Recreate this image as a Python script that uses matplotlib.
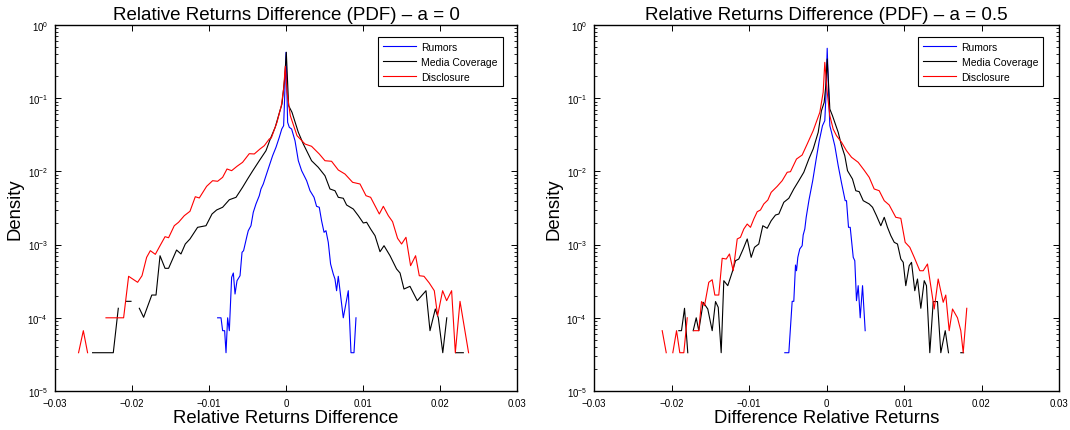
import numpy as np
import matplotlib
matplotlib.use("Agg")
import matplotlib.pyplot as plt
from matplotlib.ticker import FixedLocator, FixedFormatter, LogLocator, NullFormatter

plt.rcParams['font.family'] = ['Liberation Sans', 'DejaVu Sans']
nan = np.nan

series_names = ["Rumors", "Media Coverage", "Disclosure"]
series_colors = ["#0000ff", "#000000", "#ff0000"]
titles = ["Relative Returns Difference (PDF) – a = 0", "Relative Returns Difference (PDF) – a = 0.5"]
xlabels = ["Relative Returns Difference", "Difference Relative Returns"]
ylabel = "Density"
xtick_values = [-0.03, -0.02, -0.01, 0, 0.01, 0.02, 0.03]
xtick_labels = ["−0.03", "−0.02", "−0.01", "0", "0.01", "0.02", "0.03"]

# ---------- a = 0 (values are log10 of density; nan = empty bin) ----------
a0_rumors_x = [-0.00888, -0.00844, -0.00823, -0.00797, -0.00779, -0.00758, -0.00736, -0.00706, -0.00684, -0.00662,
               -0.00636, -0.00597, -0.00571, -0.00551, -0.00506, -0.00490, -0.00455, -0.00425, -0.00390, -0.00347,
               -0.00325, -0.00295, -0.00260, -0.00217, -0.00174, -0.00130, -0.00087, -0.00055, -0.00031, -0.00018,
               0.0, 0.00021, 0.00043, 0.00073, 0.00117, 0.00160, 0.00203, 0.00268, 0.00312, 0.00364,
               0.00397, 0.00432, 0.00462, 0.00494, 0.00519, 0.00549, 0.00579, 0.00614, 0.00636, 0.00657,
               0.00679, 0.00744, 0.00809, 0.00844, 0.00883, 0.00909]
a0_rumors_log = [-4.0, -4.0, -4.176, -4.176, -4.477, -4.0, -4.176, -3.447, -3.388, -3.675,
                 -3.493, -3.425, -3.105, -3.083, -2.878, -2.810, -2.742, -2.559, -2.445, -2.332,
                 -2.240, -2.172, -2.059, -1.922, -1.786, -1.671, -1.534, -1.421, -1.376, -1.011,
                 -0.373, -1.329, -1.398, -1.421, -1.581, -1.854, -1.990, -2.127, -2.264, -2.354,
                 -2.477, -2.490, -2.674, -2.832, -2.810, -2.969, -3.265, -3.402, -3.470, -3.630,
                 -3.433, -4.0, -3.630, -4.477, -4.477, -4.0]

a0_media_x = [-0.02512, -0.02243, -0.02178, nan, -0.02078, -0.02013, nan, -0.01905, -0.01849, -0.01743,
              -0.01688, -0.01636, -0.01571, -0.01525, -0.01421, -0.01364, -0.01308, -0.01247, -0.01148, -0.01039,
              -0.00961, -0.00901, -0.00823, -0.00736, -0.00649, -0.00564, -0.00499, -0.00434, -0.00347, -0.00260,
              -0.00204, -0.00139, -0.00087, -0.00052, -0.00018, 0.00004, 0.00034, 0.00078, 0.00160, 0.00225,
              0.00332, 0.00419, 0.00506, 0.00571, 0.00636, 0.00679, 0.00744, 0.00787, 0.00874, 0.00939,
              0.01004, 0.01047, 0.01099, 0.01156, 0.01221, 0.01273, 0.01351, 0.01436, 0.01481, 0.01532,
              0.01610, 0.01705, 0.01818, 0.01870, 0.01939, 0.01978, 0.02036, 0.02088, nan, 0.02203,
              0.02303]
a0_media_log = [-4.477, -4.477, -3.870, nan, -3.775, -3.775, nan, -3.870, -3.993, -3.689,
                -3.689, -3.152, -3.324, -3.324, -3.074, -3.128, -2.992, -2.923, -2.764, -2.742,
                -2.582, -2.527, -2.490, -2.387, -2.354, -2.217, -2.104, -1.995, -1.854, -1.717,
                -1.557, -1.393, -1.202, -1.079, -0.738, -0.373, -1.102, -1.193, -1.466, -1.626,
                -1.854, -1.944, -2.059, -2.240, -2.264, -2.354, -2.367, -2.459, -2.514, -2.605,
                -2.705, -2.695, -2.787, -2.878, -3.097, -3.015, -3.152, -3.333, -3.388, -3.607,
                -3.570, -3.766, -3.630, -4.176, -3.880, -4.0, -4.477, -4.0, nan, -4.477,
                -4.477]

a0_disc_x = [-0.02694, -0.02632, -0.02577, nan, -0.02338, -0.02109, -0.02044, -0.01927, -0.01870, -0.01810,
             -0.01762, -0.01697, -0.01636, -0.01571, -0.01525, -0.01451, -0.01395, -0.01321, -0.01247, -0.01178,
             -0.01126, -0.01031, -0.00953, -0.00888, -0.00823, -0.00766, -0.00706, -0.00636, -0.00564, -0.00477,
             -0.00412, -0.00338, -0.00282, -0.00217, -0.00191, -0.00117, -0.00061, -0.00031, -0.00009, 0.00013,
             0.00056, 0.00143, 0.00247, 0.00332, 0.00432, 0.00506, 0.00592, 0.00679, 0.00766, 0.00865,
             0.00961, 0.01039, 0.01099, 0.01156, 0.01212, 0.01264, 0.01329, 0.01384, 0.01449, 0.01501,
             0.01558, 0.01618, 0.01683, 0.01731, 0.01792, 0.01861, 0.01926, 0.01969, 0.02034, 0.02086,
             0.02151, 0.02199, 0.02260, 0.02371]
a0_disc_log = [-4.477, -4.176, -4.477, nan, -4.0, -4.0, -3.433, -3.515, -3.425, -3.174,
               -3.083, -3.133, -3.015, -2.892, -2.906, -2.742, -2.695, -2.605, -2.545, -2.346,
               -2.363, -2.204, -2.127, -2.135, -2.081, -1.967, -1.990, -1.930, -1.876, -1.758,
               -1.762, -1.694, -1.649, -1.557, -1.544, -1.329, -1.102, -0.874, -0.564, -0.919,
               -1.239, -1.512, -1.626, -1.657, -1.762, -1.854, -1.862, -1.981, -2.036, -2.149,
               -2.172, -2.332, -2.354, -2.469, -2.582, -2.477, -2.605, -2.687, -2.914, -2.992,
               -2.900, -3.288, -3.152, -3.425, -3.433, -3.525, -3.630, -3.971, -3.630, -3.766,
               -3.630, -4.477, -3.775, -4.477]

# ---------- a = 0.5 ----------
a5_rumors_x = [-0.00538, -0.00486, -0.00443, -0.00422, -0.00400, -0.00387, -0.00370, -0.00345, -0.00314, -0.00301,
               -0.00280, -0.00262, -0.00226, -0.00178, -0.00135, -0.00094, -0.00052, -0.00022, -0.00009, 0.00009,
               0.00030, 0.00043, 0.00065, 0.00107, 0.00151, 0.00194, 0.00241, 0.00258, 0.00284, 0.00306,
               0.00345, 0.00365, 0.00387, 0.00409, 0.00435, 0.00465, 0.00499]
a5_rumors_log = [-4.477, -4.477, -3.775, -3.775, -3.279, -3.357, -3.174, -3.060, -3.015, -2.869,
                 -2.787, -2.627, -2.391, -2.127, -1.844, -1.585, -1.376, -1.307, -1.011, -0.318,
                 -1.011, -1.376, -1.466, -1.649, -1.922, -2.158, -2.400, -2.400, -2.764, -2.764,
                 -3.174, -3.220, -3.766, -3.561, -4.0, -3.561, -4.176]

a5_media_x = [-0.01906, -0.01871, -0.01832, -0.01790, nan, -0.01720, -0.01681, -0.01648, -0.01591, -0.01532,
              -0.01475, -0.01432, -0.01397, -0.01359, -0.01325, -0.01274, -0.01217, -0.01174, -0.01132, -0.01075,
              -0.01023, -0.00972, -0.00929, -0.00874, -0.00822, -0.00765, -0.00714, -0.00658, -0.00615, -0.00551,
              -0.00486, -0.00422, -0.00357, -0.00293, -0.00228, -0.00172, -0.00107, -0.00065, -0.00030, -0.00009,
              0.00009, 0.00030, 0.00043, 0.00077, 0.00151, 0.00194, 0.00236, 0.00271, 0.00335, 0.00378,
              0.00422, 0.00474, 0.00551, 0.00594, 0.00645, 0.00701, 0.00745, 0.00787, 0.00830, 0.00874,
              0.00916, 0.00959, 0.00990, 0.01023, 0.01067, 0.01097, 0.01139, 0.01174, 0.01217, 0.01261,
              0.01290, 0.01333, 0.01377, 0.01432, 0.01475, 0.01532, 0.01574, nan, 0.01733, 0.01768]
a5_media_log = [-4.176, -4.176, -3.870, -4.477, nan, -4.176, -4.0, -4.176, -3.788, -3.880,
                -4.176, -3.778, -3.857, -4.477, -3.493, -3.561, -3.378, -3.220, -3.197, -3.060,
                -2.923, -3.174, -3.037, -2.992, -2.742, -2.777, -2.674, -2.596, -2.582, -2.422,
                -2.367, -2.240, -2.127, -2.012, -1.831, -1.694, -1.466, -1.171, -1.056, -0.829,
                -0.464, -0.874, -1.148, -1.239, -1.466, -1.649, -1.786, -1.990, -2.104, -2.264,
                -2.277, -2.400, -2.445, -2.490, -2.605, -2.742, -2.627, -2.764, -2.878, -2.969,
                -2.992, -3.197, -3.242, -3.561, -3.288, -3.242, -3.630, -3.470, -3.870, -3.493,
                -3.561, -4.477, -3.778, -3.778, -4.477, -4.176, -4.477, nan, -4.477, -4.477]

a5_disc_x = [-0.02120, -0.02068, nan, -0.01983, -0.01935, -0.01893, -0.01841, -0.01797, nan, -0.01712,
             -0.01648, -0.01613, -0.01574, -0.01519, -0.01475, -0.01441, -0.01390, -0.01346, -0.01294, -0.01252,
             -0.01204, -0.01152, -0.01110, -0.01067, -0.01023, -0.00981, -0.00938, -0.00894, -0.00852, -0.00809,
             -0.00757, -0.00714, -0.00636, -0.00572, -0.00507, -0.00465, -0.00387, -0.00314, -0.00249, -0.00172,
             -0.00086, -0.00043, -0.00022, 0.00009, 0.00043, 0.00086, 0.00129, 0.00194, 0.00258, 0.00323,
             0.00409, 0.00484, 0.00551, 0.00615, 0.00680, 0.00745, 0.00809, 0.00894, 0.00959, 0.01015,
             0.01075, 0.01132, 0.01204, 0.01248, 0.01303, 0.01390, 0.01441, 0.01506, 0.01539, 0.01583,
             0.01626, 0.01690, 0.01733, 0.01764, 0.01810]
a5_disc_log = [-4.176, -4.477, nan, -4.477, -4.176, -4.477, -4.477, -4.0, nan, -4.176,
               -4.176, -3.778, -3.835, -3.515, -3.480, -3.689, -3.689, -3.187, -3.197, -3.128,
               -3.357, -2.923, -2.900, -2.787, -2.719, -2.764, -2.650, -2.551, -2.527, -2.445,
               -2.391, -2.286, -2.204, -2.127, -2.012, -2.004, -1.831, -1.776, -1.626, -1.444,
               -1.193, -0.919, -0.510, -0.919, -1.239, -1.421, -1.512, -1.602, -1.717, -1.807,
               -1.876, -1.981, -2.081, -2.240, -2.264, -2.400, -2.459, -2.627, -2.641, -2.969,
               -3.037, -3.174, -3.357, -3.357, -3.265, -3.880, -3.470, -3.788, -3.689, -4.176,
               -3.880, -4.0, -4.176, -4.477, -3.870]

panels = [
    [(a0_rumors_x, a0_rumors_log), (a0_media_x, a0_media_log), (a0_disc_x, a0_disc_log)],
    [(a5_rumors_x, a5_rumors_log), (a5_media_x, a5_media_log), (a5_disc_x, a5_disc_log)],
]

W, H = 1070, 431
fig = plt.figure(figsize=(W / 100, H / 100), dpi=100)
axes_px = [(55, 26, 517, 392), (594, 26, 1059, 392)]
legend_anchor = [(0.969, 0.966), (0.965, 0.966)]

for i, (l, t, r, b) in enumerate(axes_px):
    ax = fig.add_axes([l / W, 1 - b / H, (r - l) / W, (b - t) / H])
    for (xs, ls), name, col in zip(panels[i], series_names, series_colors):
        xs = np.array(xs, dtype=float)
        ys = 10.0 ** np.array(ls, dtype=float)
        ax.plot(xs, ys, color=col, lw=0.8, label=name)
    ax.set_yscale('log')
    ax.set_xlim(-0.03, 0.03)
    ax.set_ylim(1e-5, 1)
    ax.xaxis.set_major_locator(FixedLocator(xtick_values))
    ax.xaxis.set_major_formatter(FixedFormatter(xtick_labels))
    ax.yaxis.set_major_locator(LogLocator(base=10, numticks=10))
    ax.yaxis.set_minor_locator(LogLocator(base=10, subs=np.arange(2, 10), numticks=20))
    ax.yaxis.set_minor_formatter(NullFormatter())
    ax.tick_params(which='both', direction='in', top=True, right=True, labelsize=7)
    ax.tick_params(axis='x', pad=5)
    ax.tick_params(axis='y', pad=5)
    ax.tick_params(which='major', length=4.5, width=0.7)
    ax.tick_params(which='minor', length=2.2, width=0.6)
    for s in ax.spines.values():
        s.set_linewidth(1.0)
    ax.set_title(titles[i], fontsize=13.5, pad=4)
    ax.set_xlabel(xlabels[i], fontsize=13.3, labelpad=0.5)
    ax.set_ylabel(ylabel, fontsize=13.3, labelpad=3)
    leg = ax.legend(loc='upper right', bbox_to_anchor=legend_anchor[i], borderaxespad=0,
                    fontsize=7.5, fancybox=False, framealpha=1, edgecolor='black',
                    handlelength=3.2, labelspacing=0.45, borderpad=0.45, handletextpad=0.5)
    leg.get_frame().set_linewidth(0.8)

fig.savefig("out.png", dpi=100)
